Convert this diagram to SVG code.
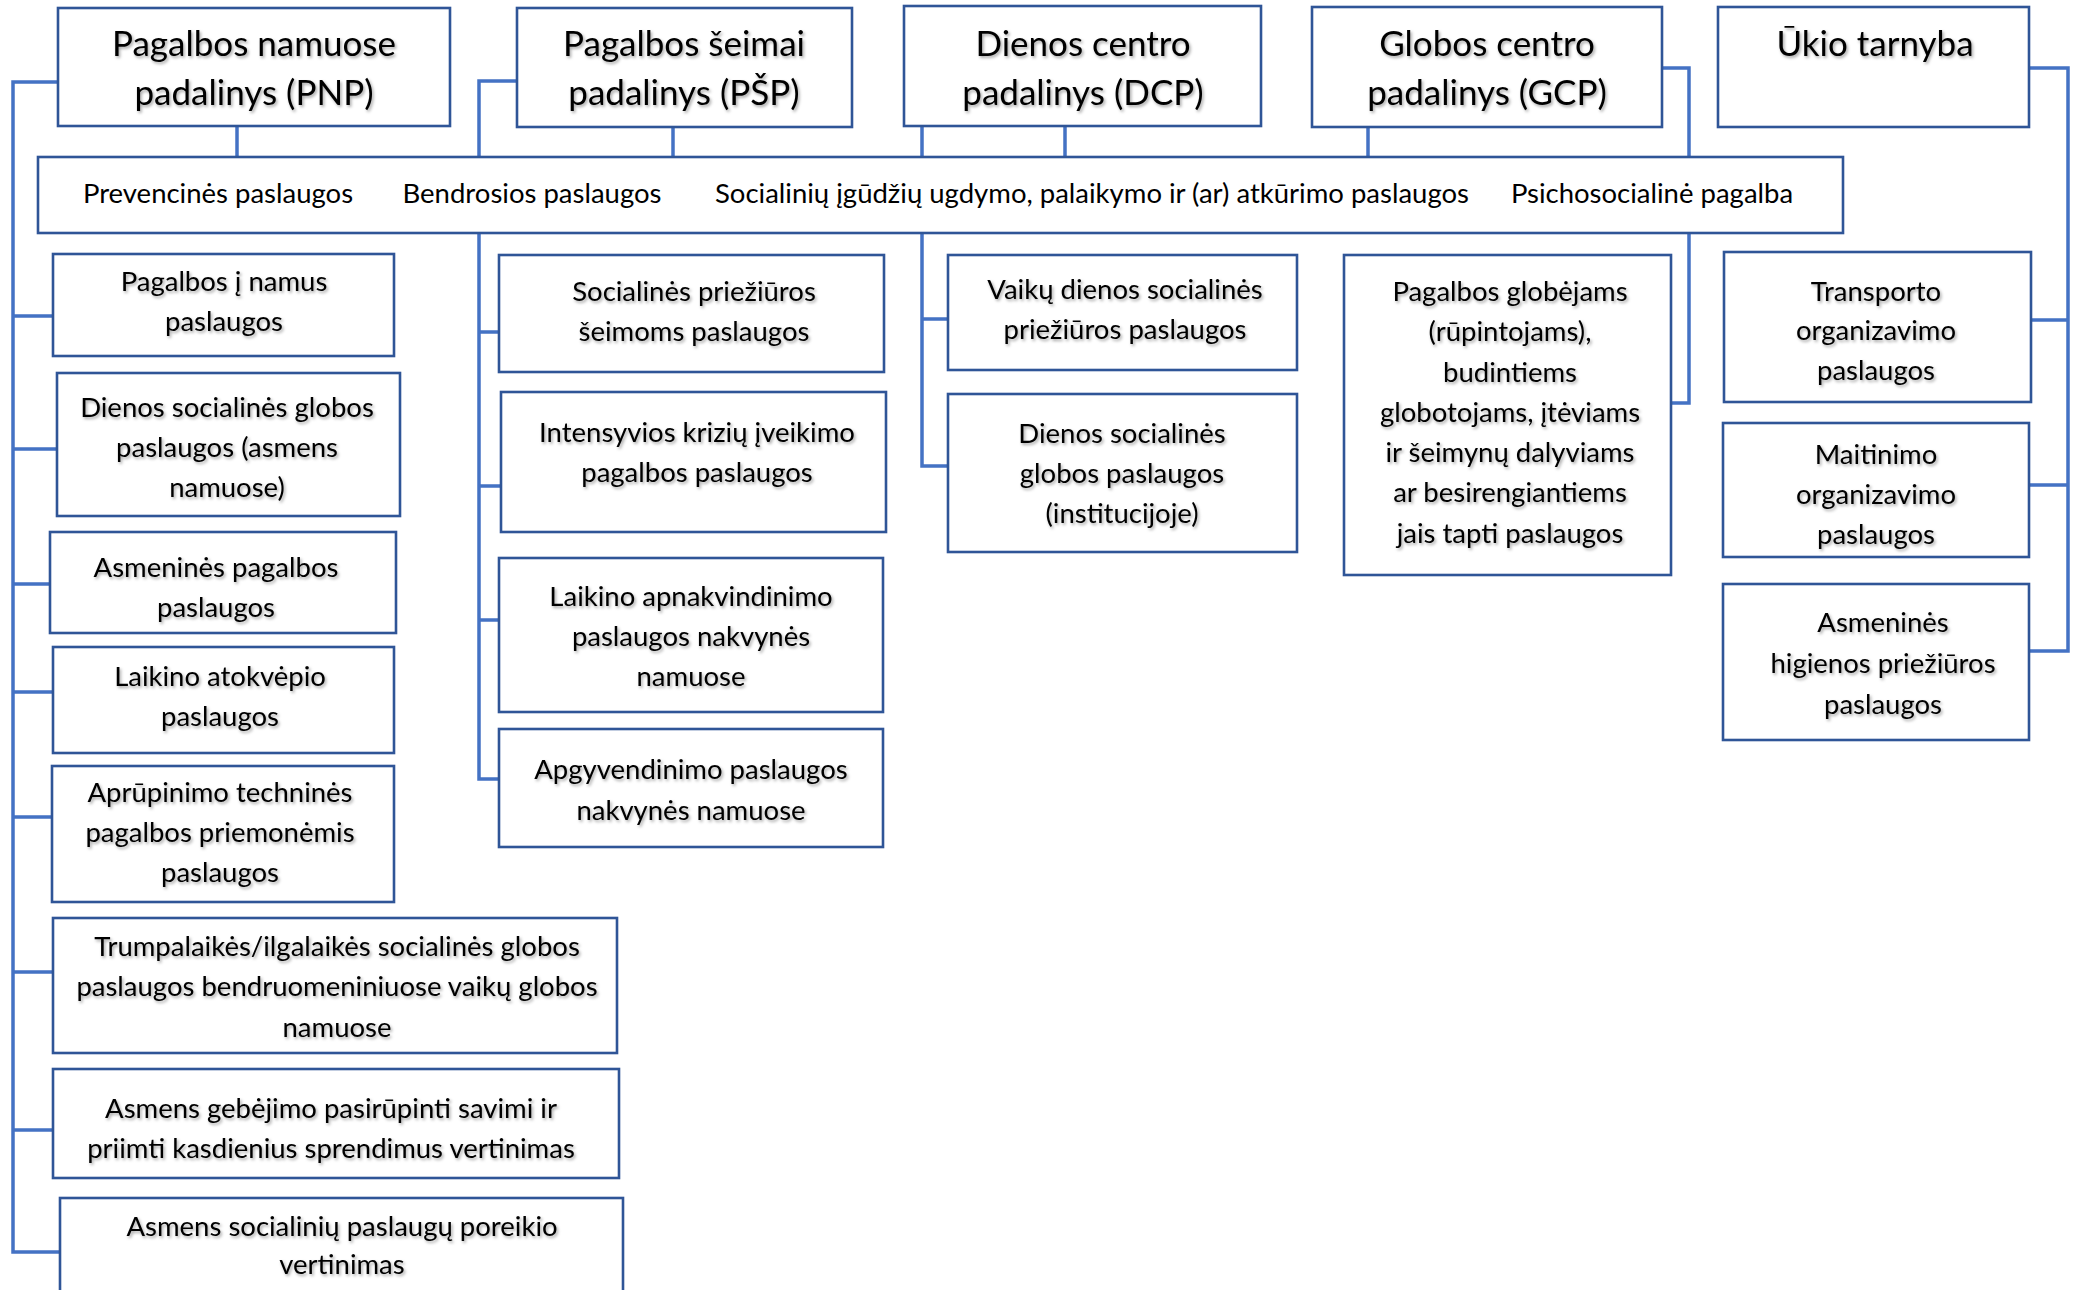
<svg xmlns="http://www.w3.org/2000/svg" width="2082" height="1290" viewBox="0 0 2082 1290">
<defs>
<style>
.box{fill:#fff;stroke:#2F5597;stroke-width:2.6}
.con{fill:none;stroke:#4472C4;stroke-width:3.5;stroke-linejoin:miter}
.t{font-family:Lato,"Open Sans",sans-serif;font-size:27.5px;fill:#000;text-anchor:middle}
.h{font-family:Lato,"Open Sans",sans-serif;font-size:35px;fill:#000;text-anchor:middle}
</style>
<filter id="sh" x="-5%" y="-20%" width="110%" height="150%">
<feDropShadow dx="1.5" dy="2" stdDeviation="1.4" flood-color="#000" flood-opacity="0.35"/>
</filter>
</defs>
<rect width="2082" height="1290" fill="#fff"/>

<g id="connectors">
<path class="con" d="M237,126 V157"/>
<path class="con" d="M673,127 V157"/>
<path class="con" d="M517,81 H479 V157"/>
<path class="con" d="M479,234 V779 H499"/>
<path class="con" d="M479,332 H499 M479,486 H501 M479,620 H499"/>
<path class="con" d="M58,82 H13 V1252 H60"/>
<path class="con" d="M13,316 H53 M13,449 H57 M13,584 H50 M13,692 H53 M13,817 H52 M13,972 H53 M13,1130 H53"/>
<path class="con" d="M922,126 V157 M1065,126 V157"/>
<path class="con" d="M922,234 V466 H948 M922,319 H948"/>
<path class="con" d="M1368,127 V157"/>
<path class="con" d="M1662,68 H1689 V157"/>
<path class="con" d="M1689,234 V403 H1671"/>
<path class="con" d="M2029,68 H2068 V651 H2029 M2068,320 H2031 M2068,485 H2029"/>
</g>

<g id="pnp"><rect class="box" x="58" y="8" width="392" height="118"/>
<g filter="url(#sh)"><text class="h" x="254" y="56">Pagalbos namuose</text><text class="h" x="254" y="105">padalinys (PNP)</text></g></g>
<g id="psp"><rect class="box" x="517" y="8" width="335" height="119"/>
<g filter="url(#sh)"><text class="h" x="684" y="56">Pagalbos šeimai</text><text class="h" x="684" y="105">padalinys (PŠP)</text></g></g>
<g id="dcp"><rect class="box" x="904" y="6" width="357" height="120"/>
<g filter="url(#sh)"><text class="h" x="1083" y="56">Dienos centro</text><text class="h" x="1083" y="105">padalinys (DCP)</text></g></g>
<g id="gcp"><rect class="box" x="1312" y="7" width="350" height="120"/>
<g filter="url(#sh)"><text class="h" x="1487" y="56">Globos centro</text><text class="h" x="1487" y="105">padalinys (GCP)</text></g></g>
<g id="ukio"><rect class="box" x="1718" y="7" width="311" height="120"/>
<g filter="url(#sh)"><text class="h" x="1875" y="56">Ūkio tarnyba</text></g></g>

<g id="bar"><rect class="box" x="38" y="157" width="1805" height="76"/>
<text class="t" x="218" y="203">Prevencinės paslaugos</text>
<text class="t" x="532" y="203">Bendrosios paslaugos</text>
<text class="t" x="1092" y="203">Socialinių įgūdžių ugdymo, palaikymo ir (ar) atkūrimo paslaugos</text>
<text class="t" x="1652" y="203">Psichosocialinė pagalba</text></g>

<g id="pnp-a"><rect class="box" x="53" y="254" width="341" height="102"/>
<g filter="url(#sh)"><text class="t" x="224" y="291">Pagalbos į namus</text><text class="t" x="224" y="331">paslaugos</text></g></g>
<g id="pnp-b"><rect class="box" x="57" y="373" width="343" height="143"/>
<g filter="url(#sh)"><text class="t" x="227" y="417">Dienos socialinės globos</text><text class="t" x="227" y="457">paslaugos (asmens</text><text class="t" x="227" y="497">namuose)</text></g></g>
<g id="pnp-c"><rect class="box" x="50" y="532" width="346" height="101"/>
<g filter="url(#sh)"><text class="t" x="216" y="577">Asmeninės pagalbos</text><text class="t" x="216" y="617">paslaugos</text></g></g>
<g id="pnp-d"><rect class="box" x="53" y="647" width="341" height="106"/>
<g filter="url(#sh)"><text class="t" x="220" y="686">Laikino atokvėpio</text><text class="t" x="220" y="726">paslaugos</text></g></g>
<g id="pnp-e"><rect class="box" x="52" y="766" width="342" height="136"/>
<g filter="url(#sh)"><text class="t" x="220" y="802">Aprūpinimo techninės</text><text class="t" x="220" y="842">pagalbos priemonėmis</text><text class="t" x="220" y="882">paslaugos</text></g></g>
<g id="pnp-f"><rect class="box" x="53" y="918" width="564" height="135"/>
<g filter="url(#sh)"><text class="t" x="337" y="956">Trumpalaikės/ilgalaikės socialinės globos</text><text class="t" x="337" y="996">paslaugos bendruomeniniuose vaikų globos</text><text class="t" x="337" y="1037">namuose</text></g></g>
<g id="pnp-g"><rect class="box" x="53" y="1069" width="566" height="109"/>
<g filter="url(#sh)"><text class="t" x="331" y="1118">Asmens gebėjimo pasirūpinti savimi ir</text><text class="t" x="331" y="1158">priimti kasdienius sprendimus vertinimas</text></g></g>
<g id="pnp-h"><rect class="box" x="60" y="1198" width="563" height="110"/>
<g filter="url(#sh)"><text class="t" x="342" y="1236">Asmens socialinių paslaugų poreikio</text><text class="t" x="342" y="1274">vertinimas</text></g></g>

<g id="psp-i"><rect class="box" x="499" y="255" width="385" height="117"/>
<g filter="url(#sh)"><text class="t" x="694" y="301">Socialinės priežiūros</text><text class="t" x="694" y="341">šeimoms paslaugos</text></g></g>
<g id="psp-j"><rect class="box" x="501" y="392" width="385" height="140"/>
<g filter="url(#sh)"><text class="t" x="697" y="442">Intensyvios krizių įveikimo</text><text class="t" x="697" y="482">pagalbos paslaugos</text></g></g>
<g id="psp-k"><rect class="box" x="499" y="558" width="384" height="154"/>
<g filter="url(#sh)"><text class="t" x="691" y="606">Laikino apnakvindinimo</text><text class="t" x="691" y="646">paslaugos nakvynės</text><text class="t" x="691" y="686">namuose</text></g></g>
<g id="psp-l"><rect class="box" x="499" y="729" width="384" height="118"/>
<g filter="url(#sh)"><text class="t" x="691" y="779">Apgyvendinimo paslaugos</text><text class="t" x="691" y="820">nakvynės namuose</text></g></g>

<g id="dcp-m"><rect class="box" x="948" y="255" width="349" height="115"/>
<g filter="url(#sh)"><text class="t" x="1125" y="299">Vaikų dienos socialinės</text><text class="t" x="1125" y="339">priežiūros paslaugos</text></g></g>
<g id="dcp-n"><rect class="box" x="948" y="394" width="349" height="158"/>
<g filter="url(#sh)"><text class="t" x="1122" y="443">Dienos socialinės</text><text class="t" x="1122" y="483">globos paslaugos</text><text class="t" x="1122" y="523">(institucijoje)</text></g></g>

<g id="gcp-o"><rect class="box" x="1344" y="255" width="327" height="320"/>
<g filter="url(#sh)"><text class="t" x="1510" y="301">Pagalbos globėjams</text><text class="t" x="1510" y="341">(rūpintojams),</text><text class="t" x="1510" y="382">budintiems</text><text class="t" x="1510" y="422">globotojams, įtėviams</text><text class="t" x="1510" y="462">ir šeimynų dalyviams</text><text class="t" x="1510" y="502">ar besirengiantiems</text><text class="t" x="1510" y="543">jais tapti paslaugos</text></g></g>

<g id="ukio-p"><rect class="box" x="1724" y="252" width="307" height="150"/>
<g filter="url(#sh)"><text class="t" x="1876" y="301">Transporto</text><text class="t" x="1876" y="340">organizavimo</text><text class="t" x="1876" y="380">paslaugos</text></g></g>
<g id="ukio-q"><rect class="box" x="1723" y="423" width="306" height="134"/>
<g filter="url(#sh)"><text class="t" x="1876" y="464">Maitinimo</text><text class="t" x="1876" y="504">organizavimo</text><text class="t" x="1876" y="544">paslaugos</text></g></g>
<g id="ukio-r"><rect class="box" x="1723" y="584" width="306" height="156"/>
<g filter="url(#sh)"><text class="t" x="1883" y="632">Asmeninės</text><text class="t" x="1883" y="673">higienos priežiūros</text><text class="t" x="1883" y="714">paslaugos</text></g></g>
</svg>
